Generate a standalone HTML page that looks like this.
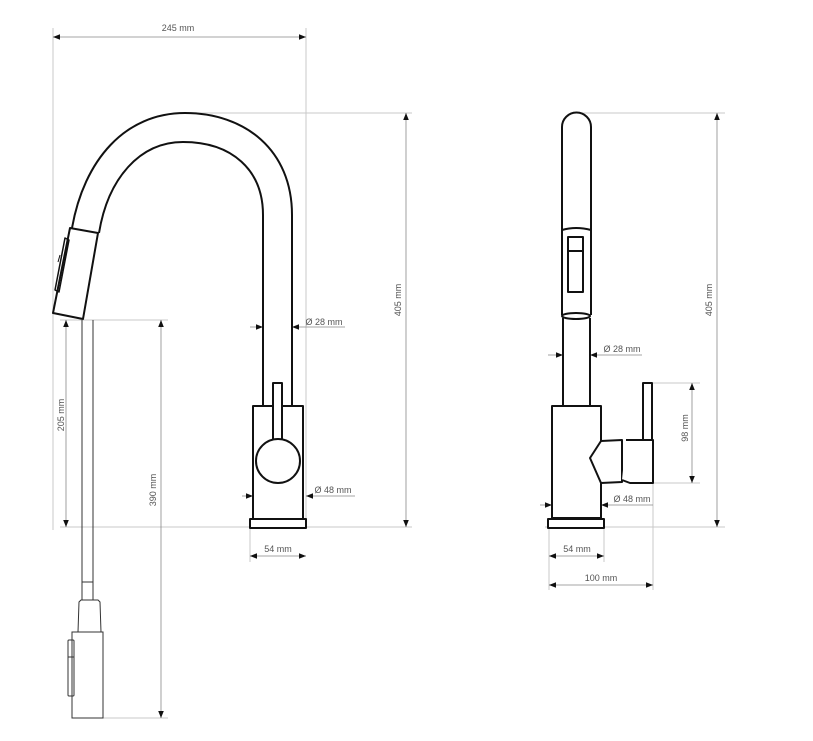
<!DOCTYPE html>
<html><head><meta charset="utf-8"><style>
html,body{margin:0;padding:0;background:#fff;}
svg{display:block;}
text{font-family:"Liberation Sans",sans-serif;font-size:9px;fill:#555;}
</style></head><body>
<svg width="813" height="741" viewBox="0 0 813 741" xmlns="http://www.w3.org/2000/svg">
<defs>
<marker id="a" viewBox="0 0 10 10" refX="10" refY="5" markerWidth="7" markerHeight="7" orient="auto-start-reverse" markerUnits="userSpaceOnUse"><path d="M0,1 L10,5 L0,9 z" fill="#111"/></marker>
</defs>
<!-- gray extension lines -->
<g stroke="#c8c8c8" stroke-width="1" fill="none">
<line x1="53" y1="28" x2="53" y2="530"/>
<line x1="306" y1="28" x2="306" y2="519"/>
<line x1="185" y1="113" x2="412" y2="113"/>
<line x1="60" y1="527" x2="412" y2="527"/>
<line x1="60" y1="320" x2="168" y2="320"/>
<line x1="75" y1="718" x2="168" y2="718"/>
<line x1="250" y1="528" x2="250" y2="562"/>
<line x1="580" y1="113" x2="725" y2="113"/>
<line x1="545" y1="527" x2="725" y2="527"/>
<line x1="652" y1="383" x2="700" y2="383"/>
<line x1="652" y1="483" x2="700" y2="483"/>
<line x1="549" y1="528" x2="549" y2="590"/>
<line x1="604" y1="528" x2="604" y2="562"/>
<line x1="653" y1="483" x2="653" y2="590"/>
</g>
<!-- dimension lines -->
<g stroke="#888" stroke-width="0.8" fill="none">
<line x1="53" y1="37" x2="306" y2="37" marker-start="url(#a)" marker-end="url(#a)"/>
<line x1="406" y1="113" x2="406" y2="527" marker-start="url(#a)" marker-end="url(#a)"/>
<line x1="66" y1="320" x2="66" y2="527" marker-start="url(#a)" marker-end="url(#a)"/>
<line x1="161" y1="320" x2="161" y2="718" marker-start="url(#a)" marker-end="url(#a)"/>
<line x1="250" y1="327" x2="263" y2="327" marker-end="url(#a)"/>
<line x1="345" y1="327" x2="292" y2="327" marker-end="url(#a)"/>
<line x1="242" y1="496" x2="253" y2="496" marker-end="url(#a)"/>
<line x1="355" y1="496" x2="306" y2="496" marker-end="url(#a)"/>
<line x1="250" y1="556" x2="306" y2="556" marker-start="url(#a)" marker-end="url(#a)"/>
<line x1="717" y1="113" x2="717" y2="527" marker-start="url(#a)" marker-end="url(#a)"/>
<line x1="692" y1="383" x2="692" y2="483" marker-start="url(#a)" marker-end="url(#a)"/>
<line x1="548" y1="355" x2="563" y2="355" marker-end="url(#a)"/>
<line x1="642" y1="355" x2="590" y2="355" marker-end="url(#a)"/>
<line x1="540" y1="505" x2="552" y2="505" marker-end="url(#a)"/>
<line x1="653" y1="505" x2="601" y2="505" marker-end="url(#a)"/>
<line x1="549" y1="556" x2="604" y2="556" marker-start="url(#a)" marker-end="url(#a)"/>
<line x1="549" y1="585" x2="653" y2="585" marker-start="url(#a)" marker-end="url(#a)"/>
</g>
<!-- left faucet -->
<g stroke="#111" stroke-width="2" fill="none" stroke-linejoin="round">
<path d="M292,406 L292,215 C292,150 245,113 185,113 C125,113 84,160 72,228"/>
<path d="M263,406 L263,215 C263,170 232,142 183,142 C140,142 108,178 99,233"/>
<path d="M70,228 L98,233 L83,319 L53,313 Z" fill="#fff"/>
<path d="M65,238 L69,240 L59,292 L55,290 Z" stroke-width="1.5"/>
<line x1="60" y1="255" x2="58" y2="262" stroke-width="1"/>
<rect x="253" y="406" width="50" height="113" fill="#fff"/>
<rect x="250" y="519" width="56" height="9" fill="#fff"/>
<rect x="273" y="383" width="9" height="57" fill="#fff"/>
<circle cx="278" cy="461" r="22" fill="#fff"/>
</g>
<g stroke="#333" stroke-width="1" fill="none">
<line x1="82" y1="319" x2="82" y2="600"/>
<line x1="93" y1="320" x2="93" y2="600"/>
<line x1="82" y1="582" x2="93" y2="582"/>
<path d="M78,632 L79,602 L81,600 L98,600 L100,602 L101,632"/>
<rect x="72" y="632" width="31" height="86"/>
<rect x="68" y="640" width="6" height="56" rx="1"/>
<line x1="68" y1="657" x2="74" y2="657"/>
</g>
<!-- right faucet -->
<g stroke="#111" stroke-width="2" fill="none" stroke-linejoin="round">
<path d="M562,315 L562,127 A14.5,14.5 0 0 1 591,127 L591,315"/>
<path d="M562,230 Q576,226 591,230"/>
<rect x="568" y="237" width="15" height="55"/>
<line x1="568" y1="251" x2="583" y2="251"/>
<ellipse cx="576" cy="316" rx="14" ry="3"/>
<line x1="563" y1="318" x2="563" y2="406"/>
<line x1="590" y1="318" x2="590" y2="406"/>
<rect x="552" y="406" width="49" height="112" fill="#fff"/>
<rect x="548" y="519" width="56" height="9" fill="#fff"/>
<path d="M601,441 L622,440 L622,482 L601,483 L590,458 Z" fill="#fff"/>
<path d="M626,440 L653,440 L653,483 L630,483 L622,480" fill="#fff"/>
<rect x="643" y="383" width="9" height="57" fill="#fff"/>
</g>
<!-- labels -->
<text x="178" y="31" text-anchor="middle">245 mm</text>
<text x="324" y="325" text-anchor="middle">Ø 28 mm</text>
<text x="333" y="493" text-anchor="middle">Ø 48 mm</text>
<text x="278" y="552" text-anchor="middle">54 mm</text>
<text transform="translate(401,300) rotate(-90)" text-anchor="middle">405 mm</text>
<text transform="translate(64,415) rotate(-90)" text-anchor="middle">205 mm</text>
<text transform="translate(156,490) rotate(-90)" text-anchor="middle">390 mm</text>
<text transform="translate(712,300) rotate(-90)" text-anchor="middle">405 mm</text>
<text transform="translate(688,428) rotate(-90)" text-anchor="middle">98 mm</text>
<text x="622" y="352" text-anchor="middle">Ø 28 mm</text>
<text x="632" y="502" text-anchor="middle">Ø 48 mm</text>
<text x="577" y="552" text-anchor="middle">54 mm</text>
<text x="601" y="581" text-anchor="middle">100 mm</text>
</svg>
</body></html>
